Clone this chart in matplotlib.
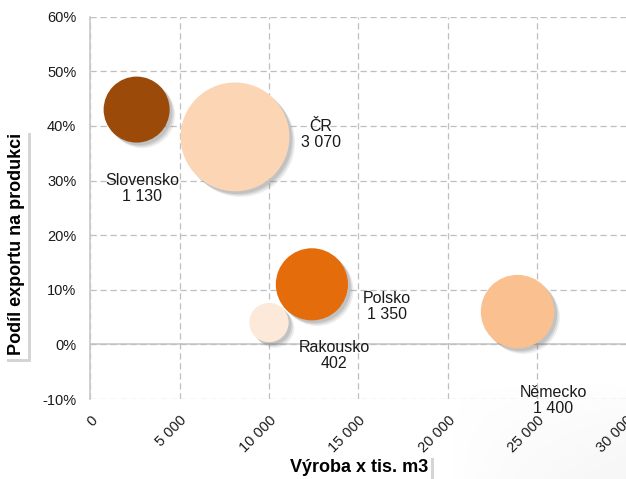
import matplotlib

matplotlib.use("Agg")
import matplotlib.patheffects as pe
import matplotlib.pyplot as plt
import numpy as np
from matplotlib.ticker import FuncFormatter

plt.rcParams["font.family"] = ["Liberation Sans", "DejaVu Sans"]

# data
countries = ["Slovensko", "ČR", "Rakousko", "Polsko", "Německo"]
vyroba = [2600, 8100, 10000, 12400, 23900]           # tis. m3
podil = [0.43, 0.38, 0.04, 0.11, 0.06]               # podíl exportu
velikost = [1130, 3070, 402, 1350, 1400]             # bubble value
barvy = ["#9C4A09", "#FCD5B4", "#FDE9D9", "#E46C0A", "#FAC08F"]
# label positions (data units)
lbl_pos = [(2900, 0.285), (12900, 0.385), (13650, -0.02), (16600, 0.07), (25900, -0.103)]


def fmt_x(v, _):
    return f"{int(v):,}".replace(",", " ")


fig = plt.figure(figsize=(6.26, 4.79), dpi=100)

# light grey gradient in the bottom-right corner of the background
bg = fig.add_axes([0, 0, 1, 1], zorder=-5)
gx, gy = np.meshgrid(np.linspace(0, 1, 300), np.linspace(0, 1, 300))
grad = np.clip((gx - 0.72) / 0.28, 0, 1) * np.clip((gy - 0.80) / 0.20, 0, 1)
bg.imshow(grad ** 0.7, cmap="Greys", vmin=0, vmax=14, extent=[0, 1, 0, 1], aspect="auto")
bg.axis("off")

ax = fig.add_axes([0.144, 0.167, 0.857, 0.798])
ax.patch.set_alpha(0)

shadow_b = [pe.SimplePatchShadow(offset=(4, -4), shadow_rgbFace="#777777", alpha=0.12),
            pe.SimplePatchShadow(offset=(3, -3), shadow_rgbFace="#777777", alpha=0.18),
            pe.SimplePatchShadow(offset=(2, -2), shadow_rgbFace="#777777", alpha=0.22),
            pe.Normal()]
ax.scatter(vyroba, podil, s=[v * 2.0 for v in velikost], c=barvy, zorder=3,
           linewidths=0, path_effects=shadow_b)

for (lx, ly), name, v in zip(lbl_pos, countries, velikost):
    ax.text(lx, ly, f"{name}\n{v:,}".replace(",", " "), ha="center", va="center",
            fontsize=11.5, color="#1a1a1a", linespacing=1.1, zorder=4)

ax.set_xlim(0, 30000)
ax.set_ylim(-0.10, 0.60)
ax.set_xticks(range(0, 30001, 5000))
ax.set_yticks([i / 10 for i in range(-1, 7)])
ax.xaxis.set_major_formatter(FuncFormatter(fmt_x))
ax.yaxis.set_major_formatter(FuncFormatter(lambda v, _: f"{v * 100:.0f}%"))
ax.tick_params(length=0, labelsize=10.5, colors="#1a1a1a")
ax.tick_params(axis="y", pad=10)
ax.tick_params(axis="x", rotation=45, pad=10)
for lab in ax.get_xticklabels():
    lab.set_ha("right")
    lab.set_rotation_mode("anchor")

ax.grid(True, color="#BFBFBF", ls=(0, (5, 3)), lw=0.9, zorder=0)
ax.axhline(0, color="#C8C8C8", lw=1.2, zorder=1)
for s in ["top", "right", "bottom"]:
    ax.spines[s].set_visible(False)
ax.spines["left"].set_color("#C8C8C8")
ax.spines["left"].set_linewidth(1.2)

shadow = [pe.SimplePatchShadow(offset=(2, -2), shadow_rgbFace="#888888", alpha=0.35), pe.Normal()]
ty = fig.text(0.026, 0.49, "Podíl exportu na produkci", rotation=90, ha="center", va="center",
              fontsize=13, fontweight="bold",
              bbox=dict(facecolor="white", edgecolor="none", pad=2.5))
tx = fig.text(0.573, 0.025, "Výroba x tis. m3", ha="center", va="center",
              fontsize=13, fontweight="bold",
              bbox=dict(facecolor="white", edgecolor="none", pad=2.5))
for t in (ty, tx):
    t.get_bbox_patch().set_path_effects(shadow)

fig.savefig("out.png", dpi=100)
